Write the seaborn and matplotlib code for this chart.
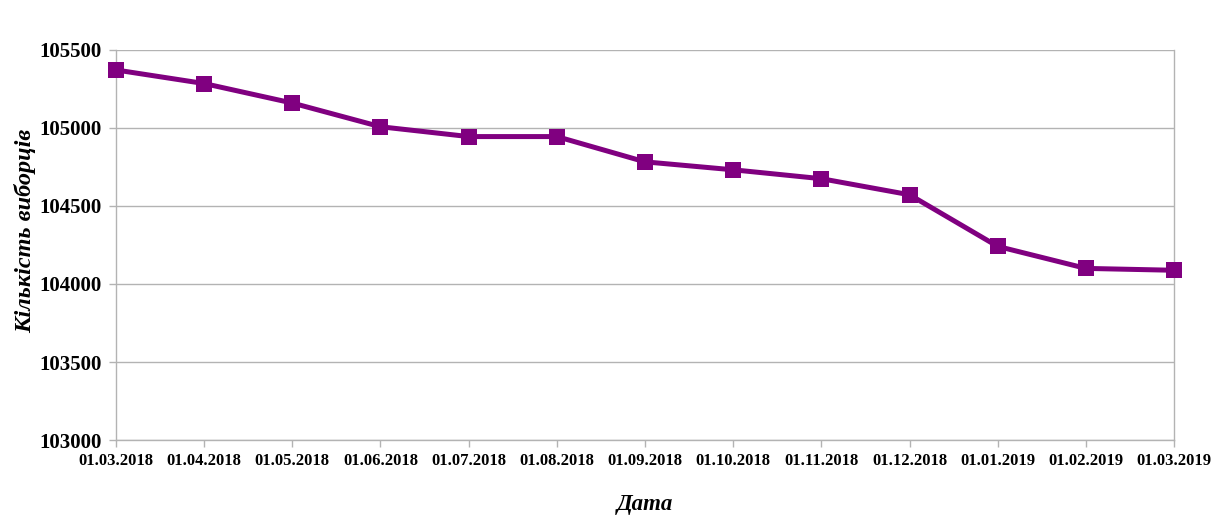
import pandas as pd
import matplotlib
matplotlib.use("Agg")
import matplotlib.pyplot as plt
import seaborn as sns

# data
dates = ['01.03.2018', '01.04.2018', '01.05.2018', '01.06.2018', '01.07.2018',
         '01.08.2018', '01.09.2018', '01.10.2018', '01.11.2018', '01.12.2018',
         '01.01.2019', '01.02.2019', '01.03.2019']
voters = [105372, 105285, 105160, 105008, 104945,
          104945, 104783, 104732, 104675, 104572,
          104241, 104100, 104088]
y_ticks = [103000, 103500, 104000, 104500, 105000, 105500]

df = pd.DataFrame({'Дата': dates, 'Кількість виборців': voters})

sns.set_style('white')
plt.rcParams['font.family'] = ['Liberation Serif', 'DejaVu Serif']
plt.rcParams['text.color'] = 'black'
plt.rcParams['axes.labelcolor'] = 'black'
plt.rcParams['xtick.labelcolor'] = 'black'
plt.rcParams['ytick.labelcolor'] = 'black'

fig, ax = plt.subplots(figsize=(12.23, 5.24), dpi=100)
fig.subplots_adjust(left=0.0948, right=0.96, top=0.9046, bottom=0.1603)

sns.lineplot(data=df, x='Дата', y='Кількість виборців', sort=False, ax=ax,
             color='#800080', linewidth=3.6, marker='s', markersize=11.5,
             markeredgewidth=0, zorder=3, clip_on=False)

ax.set_xlim(0, len(dates) - 1)
ax.set_ylim(y_ticks[0], y_ticks[-1])
ax.set_yticks(y_ticks)
ax.set_yticklabels([str(v) for v in y_ticks], fontsize=15, fontweight='bold')
ax.set_xticks(range(len(dates)))
ax.set_xticklabels(dates, fontsize=12, fontweight='bold')

ax.grid(axis='y', color='#b3b3b3', linewidth=1)
for side in ['left', 'bottom', 'right']:
    ax.spines[side].set_visible(True)
    ax.spines[side].set_color('#b3b3b3')
    ax.spines[side].set_linewidth(1)
ax.spines['top'].set_visible(False)
ax.tick_params(axis='both', direction='out', length=5, width=1, color='#b3b3b3',
               left=True, bottom=True)
ax.tick_params(axis='y', pad=5)
ax.tick_params(axis='x', pad=4)

ax.set_xlabel('Дата', fontsize=16.5, fontweight='bold', fontstyle='italic', labelpad=18)
ax.set_ylabel('Кількість виборців', fontsize=17.5, fontweight='bold', fontstyle='italic')
ax.yaxis.set_label_coords(-0.075, 0.535)

fig.savefig('out.png', dpi=100)
